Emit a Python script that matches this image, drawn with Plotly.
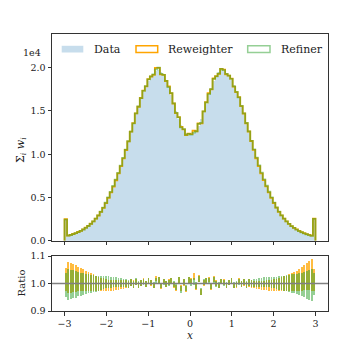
import numpy as np
import plotly.graph_objects as go

# binning: 100 bins on [-3, 3], outer bins hold the clipped overflow
bin_edges = np.linspace(-3.0, 3.0, 101)

data_counts = [
    2450, 580, 660, 760, 870, 990, 1130, 1300, 1490, 1700,
    1950, 2230, 2550, 2920, 3340, 3820, 4370, 4980, 5620, 6300,
    7030, 7820, 8660, 9560, 10520, 11520, 12570, 13620, 14630, 15580,
    16450, 17220, 17900, 18480, 18950, 19320, 19620, 19750, 19450, 19050,
    18500, 17750, 16880, 15930, 14980, 14100, 13380, 12820, 12450, 12240,
    12220, 12400, 12760, 13300, 14020, 14900, 15850, 16800, 17700, 18460,
    19020, 19450, 19720, 19680, 19400, 19020, 18550, 17950, 17250, 16480,
    15600, 14650, 13650, 12600, 11550, 10550, 9580, 8680, 7840, 7050,
    6320, 5630, 4990, 4380, 3830, 3350, 2930, 2560, 2240, 1940,
    1690, 1480, 1290, 1120, 980, 860, 750, 650, 560, 2520,
]

ratio_rw = [
    1.015, 1.022, 1.021, 1.020, 1.018, 1.016, 1.014, 1.012, 1.009, 1.007,
    1.004, 1.002, 1.000, 0.998, 0.996, 0.995, 0.994, 0.993, 0.993, 0.993,
    0.994, 0.994, 0.995, 0.996, 0.997, 0.996, 1.004, 0.998, 1.006, 0.994,
    1.003, 1.008, 0.997, 1.011, 1.002, 0.993, 1.018, 1.012, 0.989, 1.007,
    0.998, 1.005, 1.010, 0.996, 0.985, 1.013, 0.984, 1.004, 0.980, 1.012,
    1.009, 1.026, 0.990, 1.019, 0.968, 1.003, 1.010, 1.015, 0.988, 1.016,
    1.001, 0.992, 1.007, 1.005, 0.992, 1.003, 1.010, 0.992, 0.996, 1.008,
    0.997, 1.004, 0.995, 1.002, 0.998, 0.996, 0.995, 0.994, 0.993, 0.993,
    0.993, 0.993, 0.994, 0.995, 0.996, 0.997, 0.998, 0.999, 1.000, 1.002,
    1.004, 1.006, 1.009, 1.013, 1.017, 1.021, 1.025, 1.029, 1.032, 1.012,
]

ratio_rf = [
    0.995, 0.996, 0.996, 0.997, 0.997, 0.998, 0.998, 0.998, 0.999, 0.999,
    0.999, 0.999, 0.999, 1.000, 1.002, 1.003, 1.004, 1.005, 1.005, 1.005,
    1.004, 1.004, 1.003, 1.002, 1.001, 0.998, 1.003, 0.996, 1.007, 0.996,
    1.002, 1.006, 0.999, 1.009, 1.003, 0.995, 1.010, 1.013, 0.992, 1.006,
    0.999, 1.001, 1.011, 0.997, 0.987, 1.011, 0.979, 1.006, 0.983, 1.010,
    1.004, 1.008, 0.992, 1.016, 0.971, 1.004, 1.008, 1.009, 0.990, 1.013,
    0.999, 0.994, 1.008, 1.002, 0.994, 1.004, 1.009, 0.994, 0.997, 1.006,
    0.999, 1.005, 0.997, 1.003, 1.000, 1.002, 1.003, 1.004, 1.005, 1.005,
    1.005, 1.005, 1.004, 1.004, 1.003, 1.002, 1.001, 1.001, 1.001, 1.001,
    1.000, 1.000, 0.999, 0.998, 0.997, 0.996, 0.995, 0.994, 0.993, 0.998,
]

ratio_err = [
    0.043, 0.056, 0.054, 0.051, 0.048, 0.045, 0.042, 0.040, 0.037, 0.035,
    0.033, 0.031, 0.029, 0.027, 0.025, 0.024, 0.022, 0.021, 0.020, 0.019,
    0.018, 0.017, 0.016, 0.015, 0.014, 0.014, 0.013, 0.013, 0.012, 0.012,
    0.011, 0.011, 0.011, 0.010, 0.010, 0.010, 0.010, 0.010, 0.010, 0.010,
    0.010, 0.010, 0.010, 0.011, 0.011, 0.011, 0.012, 0.012, 0.012, 0.012,
    0.012, 0.012, 0.012, 0.012, 0.011, 0.011, 0.011, 0.010, 0.010, 0.010,
    0.010, 0.010, 0.010, 0.010, 0.010, 0.010, 0.010, 0.010, 0.011, 0.011,
    0.011, 0.012, 0.012, 0.013, 0.013, 0.014, 0.014, 0.015, 0.016, 0.017,
    0.018, 0.019, 0.020, 0.021, 0.022, 0.024, 0.025, 0.027, 0.029, 0.031,
    0.033, 0.035, 0.037, 0.040, 0.043, 0.046, 0.050, 0.054, 0.058, 0.040,
]

legend_labels = ["Data", "Reweighter", "Refiner"]
x_ticks = [-3, -2, -1, 0, 1, 2, 3]
y_ticks = [0, 5000, 10000, 15000, 20000]
y_ticktext = ["0.0", "0.5", "1.0", "1.5", "2.0"]
ratio_ticks = [0.9, 1.0, 1.1]
ratio_ticktext = ["0.9", "1.0", "1.1"]

W = H = 346
FONT = "DejaVu Serif"
BLUE_FILL = "rgba(31,119,180,0.25)"
ORANGE = "#ffa500"
ORANGE_BAR = "rgba(255,165,0,0.75)"
GREEN = "rgba(44,160,44,0.5)"
AXIS = "#333333"
TEXT = "#222222"


def px(x):
    return x / W


def py(y):
    return 1 - y / H


centers = 0.5 * (bin_edges[:-1] + bin_edges[1:])
data = np.array(data_counts, dtype=float)
rw = np.array(ratio_rw)
rf = np.array(ratio_rf)
err = np.array(ratio_err)


def step_xy(counts):
    # outline like matplotlib histtype='step', closed down to zero at both ends
    xs = [bin_edges[0]] + list(bin_edges[:-1]) + [bin_edges[-1]]
    ys = [0] + list(counts) + [0]
    return xs, ys


fig = go.Figure()

fig.add_trace(go.Bar(
    x=centers, y=data, width=0.06,
    marker=dict(color=BLUE_FILL, line=dict(width=0)),
    xaxis="x", yaxis="y", hoverinfo="skip",
))
for counts, color in [(data * rw, ORANGE), (data * rf, GREEN)]:
    sx, sy = step_xy(counts)
    fig.add_trace(go.Scatter(
        x=sx, y=sy, mode="lines",
        line=dict(color=color, width=1.8, shape="hv"),
        xaxis="x", yaxis="y", hoverinfo="skip",
    ))

# ratio panel: bars from ratio - err to ratio + err
for r, color in [(rw, ORANGE_BAR), (rf, GREEN)]:
    fig.add_trace(go.Bar(
        x=centers, y=2 * err, base=r - err, width=0.042,
        marker=dict(color=color, line=dict(width=0)),
        xaxis="x2", yaxis="y2", hoverinfo="skip",
    ))

fig.add_shape(type="line", xref="x2 domain", yref="y2", x0=0, x1=1, y0=1, y1=1,
              line=dict(color="#808080", width=1.5), layer="above")

# legend drawn by hand (wide swatches like matplotlib)
swatches = [
    (61.7, 83.3, dict(fillcolor=BLUE_FILL, line=dict(width=0))),
    (136.0, 157.7, dict(fillcolor="rgba(0,0,0,0)", line=dict(color=ORANGE, width=1.5))),
    (247.7, 270.0, dict(fillcolor="rgba(0,0,0,0)", line=dict(color=GREEN, width=1.5))),
]
text_x = [92, 166, 279]
for (x0, x1, style), label, tx in zip(swatches, legend_labels, text_x):
    fig.add_shape(type="rect", xref="paper", yref="paper",
                  x0=px(x0), x1=px(x1), y0=py(52.5), y1=py(45.8), **style)
    fig.add_annotation(x=px(tx), y=py(49), xref="paper", yref="paper",
                       text=label, showarrow=False, xanchor="left", yanchor="middle",
                       font=dict(family=FONT, size=11, color=TEXT))

fig.add_annotation(x=px(32), y=py(53), xref="paper", yref="paper", text="1e4",
                   showarrow=False, xanchor="center", yanchor="middle",
                   font=dict(family=FONT, size=9.5, color=TEXT))
fig.add_annotation(x=px(21), y=py(150), xref="paper", yref="paper",
                   text="Σ<sub><i>i</i></sub> <i>w<sub>i</sub></i>", textangle=-90,
                   showarrow=False, xanchor="center", yanchor="middle",
                   font=dict(family=FONT, size=11, color=TEXT))
fig.add_annotation(x=px(21), y=py(283.5), xref="paper", yref="paper", text="Ratio",
                   textangle=-90, showarrow=False, xanchor="center", yanchor="middle",
                   font=dict(family=FONT, size=10, color=TEXT))
fig.add_annotation(x=px(190), y=py(335), xref="paper", yref="paper", text="<i>x</i>",
                   showarrow=False, xanchor="center", yanchor="middle",
                   font=dict(family=FONT, size=10.5, color=TEXT))

axis_style = dict(
    showline=True, mirror=True, linecolor=AXIS, linewidth=1,
    ticks="outside", ticklen=3.5, tickwidth=1, tickcolor=AXIS,
    showgrid=False, zeroline=False, automargin=False,
)
xdom = [px(52), px(328)]

fig.update_layout(
    width=W, height=H, autosize=False,
    margin=dict(l=0, r=0, t=0, b=0),
    paper_bgcolor="white", plot_bgcolor="white",
    font=dict(family=FONT, size=9.5, color=TEXT),
    showlegend=False, barmode="overlay", bargap=0,
    xaxis=dict(domain=xdom, anchor="y", range=[-3.3, 3.3], tickvals=x_ticks,
               showticklabels=False, **axis_style),
    yaxis=dict(domain=[py(240.7), py(34)], anchor="x", range=[0, 23900],
               tickvals=y_ticks, ticktext=y_ticktext, **axis_style),
    xaxis2=dict(domain=xdom, anchor="y2", range=[-3.3, 3.3], tickvals=x_ticks,
                **axis_style),
    yaxis2=dict(domain=[py(311), py(256)], anchor="x2", range=[0.9, 1.1],
                tickvals=ratio_ticks, ticktext=ratio_ticktext, **axis_style),
)

# drop the browser's default body margin so the 346px figure sits at the page origin
fig.write_html("out.html", config={"responsive": False, "displayModeBar": False},
               post_script="document.body.style.margin='0';document.body.style.padding='0';")
